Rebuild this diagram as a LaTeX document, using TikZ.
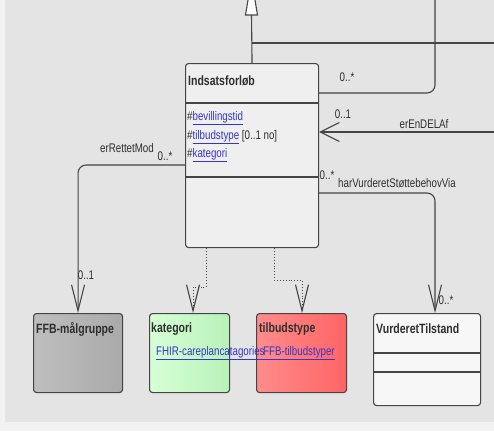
\documentclass[tikz,border=0pt]{standalone}
\usepackage{fontspec}
\setmainfont{Liberation Sans}
\newfontfamily\umlf[FakeStretch=0.78]{Liberation Sans}
\usetikzlibrary{arrows.meta,calc}
\definecolor{outerbg}{HTML}{F2F2F2}
\definecolor{bgc}{HTML}{E4E4E4}
\definecolor{linec}{HTML}{454545}
\definecolor{txtc}{HTML}{2E2E2E}
\definecolor{linkc}{HTML}{3535C8}
\definecolor{mainfill}{HTML}{EFEFEF}
\definecolor{grayA}{HTML}{BEBEBE}
\definecolor{grayB}{HTML}{AAAAAA}
\definecolor{greenA}{HTML}{D6FFD6}
\definecolor{greenB}{HTML}{B8F2B8}
\definecolor{redA}{HTML}{FF8C8C}
\definecolor{redB}{HTML}{FF6464}
\newcommand{\lnk}[1]{\textcolor{linkc}{\underline{#1}}}
\tikzset{
  cls/.style={draw=linec, line width=1.1pt, rounded corners=3pt, inner sep=0pt, anchor=north west},
  conn/.style={draw=linec, line width=1.1pt},
  dotconn/.style={draw=linec, line width=0.9pt, dotted},
  ttl/.style={anchor=west, inner sep=0pt, text=txtc, font=\umlf\bfseries\fontsize{13.5}{15}\selectfont},
  txt/.style={anchor=west, inner sep=0pt, text=txtc, font=\umlf\fontsize{12.5}{14}\selectfont},
  lbl/.style={inner sep=0pt, text=txtc, font=\umlf\fontsize{12.5}{14}\selectfont},
  bigV/.tip={Straight Barb[length=19pt,width=19pt,line width=1.1pt]},
  longV/.tip={Straight Barb[length=26pt,width=13pt,line width=1.1pt]}
}
\begin{document}
\begin{tikzpicture}[x=1pt,y=-1pt]
\useasboundingbox (0,0) rectangle (494,431);
\fill[outerbg] (0,0) rectangle (494,431);
\fill[bgc] (5,0) rectangle (494,422);
\clip (0,0) rectangle (494,431);

% classes
\node[cls, fill=mainfill, minimum width=133pt, minimum height=184pt] (ind) at (185,63) {};
\draw[conn] ($(ind.north west)+(0,40)$) -- ($(ind.north east)+(0,40)$);
\draw[conn] ($(ind.north west)+(0,114)$) -- ($(ind.north east)+(0,114)$);
\node[ttl] (indt) at (188,81) {Indsatsforløb};
\node[txt] (a1) at (187,118) {\#\lnk{bevillingstid}};
\node[txt] (a2) at (187,137) {\#\lnk{tilbudstype} [0..1 no]};
\node[txt] (a3) at (187,155) {\#\lnk{kategori}};

\node[cls, left color=grayA, right color=grayB, minimum width=89pt, minimum height=79pt] (mal) at (33,313) {};
\node[ttl] (malt) at (36,329) {FFB-målgruppe};

\node[cls, left color=greenA, right color=greenB, minimum width=80pt, minimum height=79pt] (kat) at (149,313) {};
\node[ttl] (katt) at (151,329) {kategori};

\node[cls, left color=redA, right color=redB, minimum width=90pt, minimum height=79pt] (tilb) at (256,313) {};
\node[ttl] (tilbt) at (259,329) {tilbudstype};

\node[txt] (katl) at (156,353) {\lnk{FHIR-careplancatagories}};
\node[txt] (tilbl) at (263,353) {\lnk{FFB-tilbudstyper}};

\node[cls, fill=white!97!black, minimum width=107pt, minimum height=92pt] (vurd) at (373,313) {};
\draw[conn] ($(vurd.north west)+(0,40)$) -- ($(vurd.north east)+(0,40)$);
\draw[conn] ($(vurd.north west)+(0,59)$) -- ($(vurd.north east)+(0,59)$);
\node[ttl] (vurdt) at (376,329) {VurderetTilstand};

% generalization
\coordinate (genb) at (251.5,15);
\coordinate (gtip) at (251.5,-21);
\coordinate (gj) at (251.5,43);
\coordinate (gr) at (494,43);
\draw[conn] (ind.north) -- (genb);
\draw[conn, fill=white] ($(genb)+(-6,0)$) -- ($(genb)+(6,0)$) -- (gtip) -- cycle;
\draw[conn] (gj) -- (gr);

% association upward
\coordinate (topr) at (435,0);
\draw[conn, rounded corners=8pt] ($(ind.north east)+(0,30)$) -| (topr);
\node[lbl] (m1) at (347,77) {0..*};

% erEnDELAf
\coordinate (rend) at (494,132);
\draw[conn, -{bigV}] (rend) -- (rend -| ind.east);
\node[lbl] (m2) at (343,114) {0..1};
\node[lbl] (l2) at (424,124) {erEnDELAf};

% erRettetMod
\draw[conn, rounded corners=8pt, -{longV}] ($(ind.north west)+(0,102)$) -| (mal.north);
\node[lbl] (l3) at (127,148) {erRettetMod};
\node[lbl] (m3) at (165,156) {0..*};
\node[lbl] (m4) at (86,275) {0..1};

% harVurderetStoettebehovVia
\draw[conn, rounded corners=8pt, -{longV}] ($(ind.north east)+(0,130)$) -| ($(vurd.north west)+(62,0)$);
\node[lbl] (m5) at (327,175) {0..*};
\node[lbl] (l5) at (397,183) {harVurderetStøttebehovVia};
\node[lbl] (m6) at (446,300) {0..*};

% dependencies
\draw[dotconn, -{longV}] ($(ind.south west)+(21,0)$) |- ($(kat.north west)+(44,-26)$) -- ($(kat.north west)+(44,0)$);
\draw[dotconn, -{longV}] ($(ind.south west)+(89,0)$) |- ($(tilb.north west)+(46,-33)$) -- ($(tilb.north west)+(46,0)$);
\end{tikzpicture}
\end{document}
